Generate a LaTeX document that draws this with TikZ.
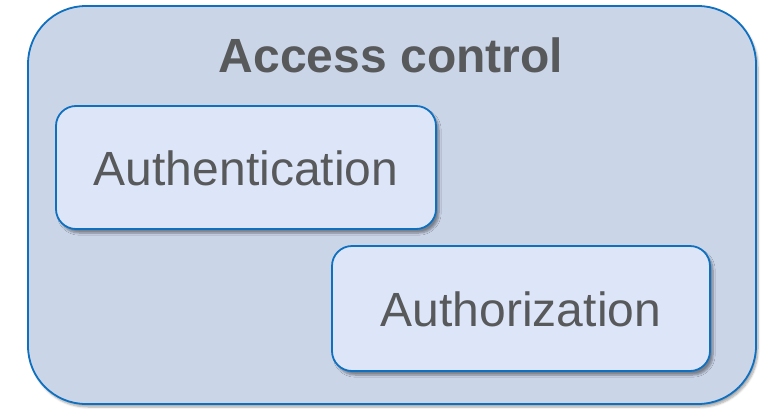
\documentclass[tikz,border=0pt]{standalone}
\usepackage{fontspec}
\setmainfont{Liberation Sans}
\usetikzlibrary{shadows.blur}
\definecolor{outerfill}{HTML}{CBD5E8}
\definecolor{innerfill}{HTML}{DDE6F9}
\definecolor{edgeblue}{HTML}{1070C0}
\definecolor{textgray}{HTML}{58595B}
\tikzset{
  panel/.style={draw=edgeblue, line width=1.8pt, fill=outerfill,
    rounded corners=58pt,
    blur shadow={shadow xshift=2pt, shadow yshift=-3pt, shadow blur steps=6, shadow opacity=35}},
  card/.style={draw=edgeblue, line width=1.8pt, fill=innerfill,
    rounded corners=20pt,
    blur shadow={shadow xshift=3pt, shadow yshift=-4pt, shadow blur steps=6, shadow opacity=40}},
  label/.style={text=textgray, font=\fontsize{48}{56}\selectfont, inner sep=0pt, anchor=base}
}
\begin{document}
\begin{tikzpicture}[x=1pt, y=-1pt]
  \useasboundingbox (0,0) rectangle (769,410);
  % outer container
  \path[panel] (28,6) rectangle (756,404);
  \node[label, font=\fontsize{48}{56}\selectfont\bfseries] (title) at (391,72) {Access control};
  % inner cards
  \path[card] (56,106) rectangle (436,229);
  \node[label] (authn) at (246,185) {Authentication};
  \path[card] (332,246) rectangle (710,371);
  \node[label] (authz) at (521,326) {Authorization};
\end{tikzpicture}
\end{document}
